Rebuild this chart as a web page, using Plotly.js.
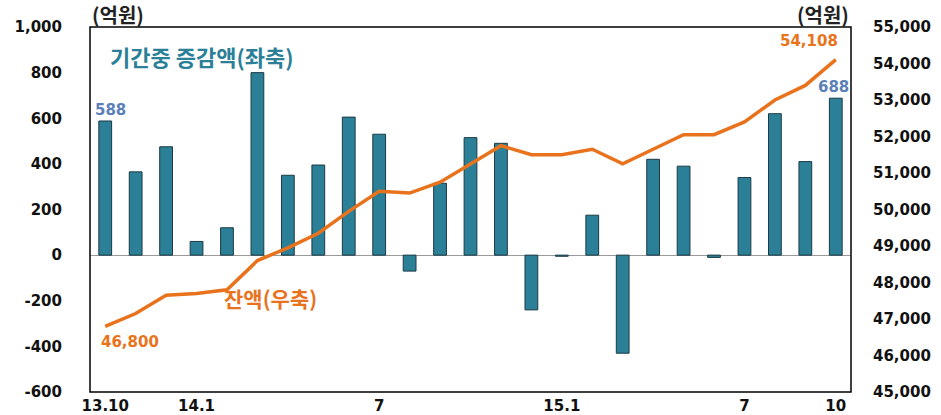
<!DOCTYPE html>
<html>
<head>
<meta charset="utf-8">
<script src="https://cdn.plot.ly/plotly-3.0.1.min.js"></script>
<style>html,body{margin:0;padding:0;background:#fff;}#chart{width:941px;height:415px;}</style>
</head>
<body>
<div id="chart"></div>
<script>
const months = ['13.10','13.11','13.12','14.1','14.2','14.3','14.4','14.5','14.6','14.7','14.8','14.9','14.10','14.11','14.12','15.1','15.2','15.3','15.4','15.5','15.6','15.7','15.8','15.9','15.10'];
const change = [588,365,475,60,120,800,350,395,605,530,-70,315,515,490,-240,-5,175,-430,420,390,-10,340,620,410,688];
const balance = [46800,47150,47650,47700,47800,48600,48950,49350,49950,50500,50450,50750,51250,51750,51500,51500,51650,51250,51650,52050,52050,52400,53000,53400,54108];
const xTickVals = ['13.10','14.1','14.7','15.1','15.7','15.10'];
const xTickText = ['13.10','14.1','7','15.1','7','10'];
const yTickVals = [-600,-400,-200,0,200,400,600,800,1000];
const yTickText = ['-600','-400','-200','0','200','400','600','800','1,000'];
const y2TickVals = [45000,46000,47000,48000,49000,50000,51000,52000,53000,54000,55000];
const y2TickText = ['45,000','46,000','47,000','48,000','49,000','50,000','51,000','52,000','53,000','54,000','55,000'];

const FONT = 'DejaVu Sans, Verdana, sans-serif';
const KFONT = 'Noto Sans CJK KR, sans-serif';
const TEAL = '#2B8098';
const ORANGE = '#E8731C';
const BLUE = '#5B80B8';

const first = 0, last = months.length - 1, labelIdx = 4;

const traces = [
  {
    type: 'bar', x: months, y: change, width: 0.42,
    marker: {color: TEAL, line: {color: '#1c3a44', width: 1}},
    yaxis: 'y', hoverinfo: 'x+y'
  },
  {
    type: 'scatter', mode: 'lines', x: months, y: balance, yaxis: 'y2',
    line: {color: ORANGE, width: 3.5}, hoverinfo: 'x+y'
  }
];

const tickFont = {family: FONT, size: 15, color: '#111', weight: 'bold'};

const layout = {
  width: 941, height: 415,
  margin: {l: 90, r: 90, t: 27, b: 23},
  paper_bgcolor: '#fff', plot_bgcolor: '#fff',
  showlegend: false,
  xaxis: {
    type: 'category', range: [-0.5, 24.5],
    tickvals: xTickVals, ticktext: xTickText, tickfont: tickFont,
    showline: false, showgrid: false, ticks: '', ticklabelstandoff: 3
  },
  yaxis: {
    range: [-600, 1000], tickvals: yTickVals, ticktext: yTickText, tickfont: tickFont,
    showline: false, showgrid: false,
    zeroline: true, zerolinecolor: '#999', zerolinewidth: 1.2,
    ticks: '', ticklabelstandoff: 27
  },
  yaxis2: {
    overlaying: 'y', side: 'right',
    range: [45000, 55000], tickvals: y2TickVals, ticktext: y2TickText, tickfont: tickFont,
    showline: false, showgrid: false, zeroline: false, ticks: '', ticklabelstandoff: 21
  },
  shapes: [
    {type: 'rect', xref: 'paper', yref: 'paper', x0: 0, x1: 1, y0: 0, y1: 1,
     line: {color: '#000', width: 1.5}, fillcolor: 'rgba(0,0,0,0)', layer: 'above'}
  ],
  annotations: [
    {xref: 'paper', yref: 'paper', x: 0, y: 1.0, xanchor: 'left', yanchor: 'bottom', yshift: -4,
     text: '<b>(억원)</b>', showarrow: false, font: {family: KFONT, size: 20, color: '#222'}},
    {xref: 'paper', yref: 'paper', x: 1, y: 1.0, xanchor: 'right', yanchor: 'bottom', yshift: -4,
     text: '<b>(억원)</b>', showarrow: false, font: {family: KFONT, size: 20, color: '#222'}},
    {xref: 'paper', yref: 'paper', x: 0.024, y: 0.92, xanchor: 'left', yanchor: 'middle',
     text: '<b>기간중 증감액(좌축)</b>', showarrow: false, font: {family: KFONT, size: 22, color: TEAL}},
    {xref: 'x', yref: 'y2', x: labelIdx, y: balance[labelIdx], xanchor: 'left', yanchor: 'middle', xshift: -5, yshift: -8,
     text: '<b>잔액(우축)</b>', showarrow: false, font: {family: KFONT, size: 21, color: ORANGE}},
    {xref: 'x', yref: 'y', x: first, y: change[first], xanchor: 'center', yanchor: 'bottom', xshift: 5, yshift: 0,
     text: '<b>' + change[first] + '</b>', showarrow: false, font: {family: FONT, size: 15, color: BLUE}},
    {xref: 'x', yref: 'y', x: last, y: change[last], xanchor: 'center', yanchor: 'bottom', xshift: -2, yshift: 0,
     text: '<b>' + change[last] + '</b>', showarrow: false, font: {family: FONT, size: 15, color: BLUE}},
    {xref: 'x', yref: 'y2', x: first, y: balance[first], xanchor: 'left', yanchor: 'top', xshift: -6, yshift: -5,
     text: '<b>' + balance[first].toLocaleString('en-US') + '</b>', showarrow: false, font: {family: FONT, size: 15, color: ORANGE}},
    {xref: 'x', yref: 'y2', x: last, y: balance[last], xanchor: 'right', yanchor: 'bottom', xshift: 4, yshift: 8,
     text: '<b>' + balance[last].toLocaleString('en-US') + '</b>', showarrow: false, font: {family: FONT, size: 15, color: ORANGE}}
  ]
};

Plotly.newPlot('chart', traces, layout, {displayModeBar: false, staticPlot: true});
</script>
</body>
</html>
